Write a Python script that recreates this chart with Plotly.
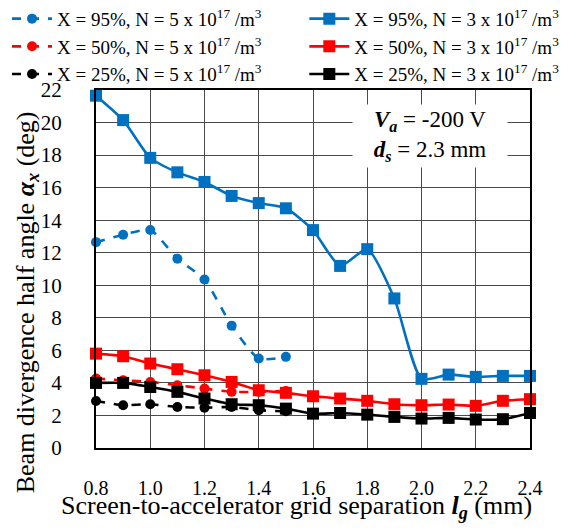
import plotly.graph_objects as go

lg_a = [0.8, 0.9, 1.0, 1.1, 1.2, 1.3, 1.4, 1.5]
lg_b = [0.8, 0.9, 1.0, 1.1, 1.2, 1.3, 1.4, 1.5, 1.6, 1.7, 1.8, 1.9, 2.0, 2.1, 2.2, 2.3, 2.4]

x95_n5 = [12.65, 13.1, 13.4, 11.63, 10.35, 7.52, 5.5, 5.6]
x95_n3 = [21.65, 20.15, 17.83, 16.94, 16.35, 15.49, 15.05, 14.73, 13.39, 11.19, 12.22, 9.19, 4.25, 4.51, 4.37, 4.43, 4.43]
x50_n5 = [4.27, 4.16, 4.06, 3.86, 3.65, 3.45, 3.45, 3.5]
x50_n3 = [5.8, 5.64, 5.19, 4.84, 4.47, 4.06, 3.55, 3.39, 3.18, 3.04, 2.9, 2.69, 2.63, 2.67, 2.59, 2.9, 3.0]
x25_n5 = [2.89, 2.63, 2.69, 2.52, 2.48, 2.52, 2.32, 2.26]
x25_n3 = [4.0, 4.0, 3.75, 3.45, 3.04, 2.69, 2.63, 2.42, 2.11, 2.15, 2.05, 1.91, 1.81, 1.85, 1.75, 1.77, 2.15]

names = [
    "X = 95%, N = 5 x 10<sup>17</sup> /m<sup>3</sup>",
    "X = 95%, N = 3 x 10<sup>17</sup> /m<sup>3</sup>",
    "X = 50%, N = 5 x 10<sup>17</sup> /m<sup>3</sup>",
    "X = 50%, N = 3 x 10<sup>17</sup> /m<sup>3</sup>",
    "X = 25%, N = 5 x 10<sup>17</sup> /m<sup>3</sup>",
    "X = 25%, N = 3 x 10<sup>17</sup> /m<sup>3</sup>",
]
x_title = "Screen-to-accelerator grid separation <b><i>l<sub>g</sub></i></b> (mm)"
y_title = "Beam divergence half angle <b><i>α<sub>x</sub></i></b> (deg)"
note = "<b><i>V<sub>a</sub></i></b> = -200 V<br><b><i>d<sub>s</sub></i></b> = 2.3 mm"

BLUE, RED, BLACK = "#0070C0", "#FF0000", "#000000"
series = [
    (lg_a, x95_n5, BLUE, "dash", "circle", 10, "legend"),
    (lg_b, x95_n3, BLUE, "solid", "square", 12, "legend2"),
    (lg_a, x50_n5, RED, "dash", "circle", 10, "legend"),
    (lg_b, x50_n3, RED, "solid", "square", 12, "legend2"),
    (lg_a, x25_n5, BLACK, "dash", "circle", 10, "legend"),
    (lg_b, x25_n3, BLACK, "solid", "square", 12, "legend2"),
]

FONT = "Times New Roman"
fig = go.Figure()
for name, (xs, ys, c, dash, sym, sz, lgd) in zip(names, series):
    fig.add_trace(go.Scatter(
        x=xs, y=ys, name=name, mode="lines+markers", legend=lgd,
        line=dict(color=c, width=2.6, dash=dash, shape="spline", smoothing=0.6),
        marker=dict(color=c, symbol=sym, size=sz),
        cliponaxis=False,
    ))

legend_common = dict(
    orientation="v", xref="paper", yref="paper",
    xanchor="left", yanchor="top",
    font=dict(family=FONT, size=19, color="black"),
    tracegroupgap=0, itemwidth=40,
    bgcolor="rgba(0,0,0,0)",
)

fig.update_layout(
    width=584, height=530,
    margin=dict(l=96, r=54, t=90, b=82, autoexpand=False),
    plot_bgcolor="white", paper_bgcolor="white",
    font=dict(family=FONT, size=20, color="black"),
    showlegend=True,
    legend=dict(x=-0.205, y=1.252, **legend_common),
    legend2=dict(x=0.48, y=1.252, **legend_common),
    xaxis=dict(
        range=[0.8, 2.4], dtick=0.2, tick0=0.8, tickformat=".1f",
        showgrid=True, gridcolor="#4a4a4a", gridwidth=1,
        showline=True, linecolor="black", linewidth=2, mirror=True,
        zeroline=False, ticks="", ticklabelstandoff=21, automargin=False,
        tickfont=dict(family=FONT, size=20, color="black"),
    ),
    yaxis=dict(
        range=[0, 22], dtick=2,
        showgrid=True, gridcolor="#4a4a4a", gridwidth=1,
        showline=True, linecolor="black", linewidth=2, mirror=True,
        zeroline=False, ticks="", ticklabelstandoff=28, automargin=False,
        tickfont=dict(family=FONT, size=21, color="black"),
    ),
)

fig.add_annotation(
    x=0.463, y=-0.166, xref="paper", yref="paper", showarrow=False,
    text=x_title, font=dict(family=FONT, size=26, color="black"),
    xanchor="center", yanchor="middle",
)
fig.add_annotation(
    x=-0.159, y=0.407, xref="paper", yref="paper", showarrow=False,
    text=y_title, font=dict(family=FONT, size=26, color="black"),
    textangle=-90, xanchor="center", yanchor="middle",
)
fig.add_annotation(
    x=2.03, y=19.17, xref="x", yref="y", showarrow=False,
    text=note, font=dict(family=FONT, size=23, color="black"), align="center",
    width=150, height=58, bgcolor="white", borderpad=2,
)

fig.write_html("out.html")
